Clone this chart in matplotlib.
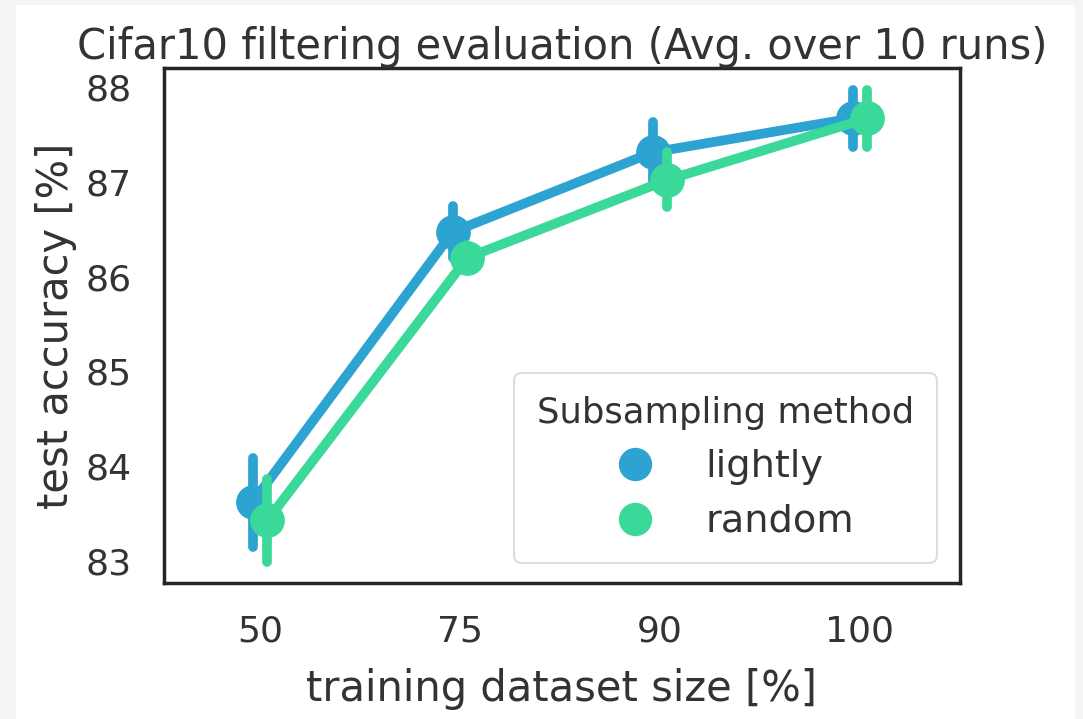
import matplotlib
matplotlib.use("Agg")
import matplotlib.pyplot as plt
import numpy as np
from matplotlib.patches import Rectangle

# training set sizes and mean test accuracy (avg over 10 runs)
sizes = ["50", "75", "90", "100"]
lightly_acc = [83.62, 86.47, 87.31, 87.67]
lightly_ci = [0.47, 0.27, 0.32, 0.30]
random_acc = [83.43, 86.20, 87.02, 87.67]
random_ci = [0.44, 0.13, 0.29, 0.30]

blue = '#2ca3d1'
green = '#3bd999'
dark = '#333333'

plt.rcParams['font.family'] = 'DejaVu Sans'
plt.rcParams['text.color'] = dark
plt.rcParams['axes.labelcolor'] = dark
plt.rcParams['xtick.color'] = dark
plt.rcParams['ytick.color'] = dark

fig = plt.figure(figsize=(10.83, 7.19), dpi=100, facecolor='#f4f4f4')
fig.patches.append(Rectangle((16 / 1083, 0), (1075 - 16) / 1083, 714 / 719,
                             transform=fig.transFigure, facecolor='white',
                             edgecolor='none', zorder=-10))
ax = fig.add_axes([164 / 1083, 1 - 583 / 719, (960 - 164) / 1083, (583 - 68) / 719])

x = np.arange(len(sizes))
off = 0.037
for i, (acc, ci, col, name, sh) in enumerate([
        (lightly_acc, lightly_ci, blue, 'lightly', -off),
        (random_acc, random_ci, green, 'random', off)]):
    xs = x + sh
    acc = np.array(acc)
    ci = np.array(ci)
    ax.vlines(xs, acc - ci, acc + ci, color=col, lw=7, capstyle='round', zorder=2 + i)
    ax.plot(xs, acc, color=col, lw=7, marker='o', ms=24, label=name,
            solid_capstyle='round', zorder=2 + i)

ax.set_xlim(-0.48, 3.5)
ax.set_ylim(82.77, 88.2)
ax.set_xticks(x)
ax.set_xticklabels(sizes)
ax.set_yticks([83, 84, 85, 86, 87, 88])
ax.tick_params(axis='both', labelsize=26, length=0, pad=23)
for s in ax.spines.values():
    s.set_linewidth(2.5)
    s.set_color('#262626')

ax.set_title('Cifar10 filtering evaluation (Avg. over 10 runs)', fontsize=30, pad=6)
ax.set_xlabel('training dataset size [%]', fontsize=30, labelpad=14)
ax.set_ylabel('test accuracy [%]', fontsize=30, labelpad=6)

handles = [plt.Line2D([], [], ls='', marker='o', ms=23, color=c) for c in (blue, green)]
leg = ax.legend(handles, ['lightly', 'random'], title='Subsampling method',
                loc='lower right', fontsize=27.5, title_fontsize=25.5,
                handletextpad=0.85, borderpad=0.6, labelspacing=0.5,
                framealpha=1, edgecolor='#dddddd', borderaxespad=0,
                bbox_to_anchor=(0.971, 0.039))
leg.get_frame().set_linewidth(1.5)

fig.savefig('out.png', dpi=100, facecolor=fig.get_facecolor())
